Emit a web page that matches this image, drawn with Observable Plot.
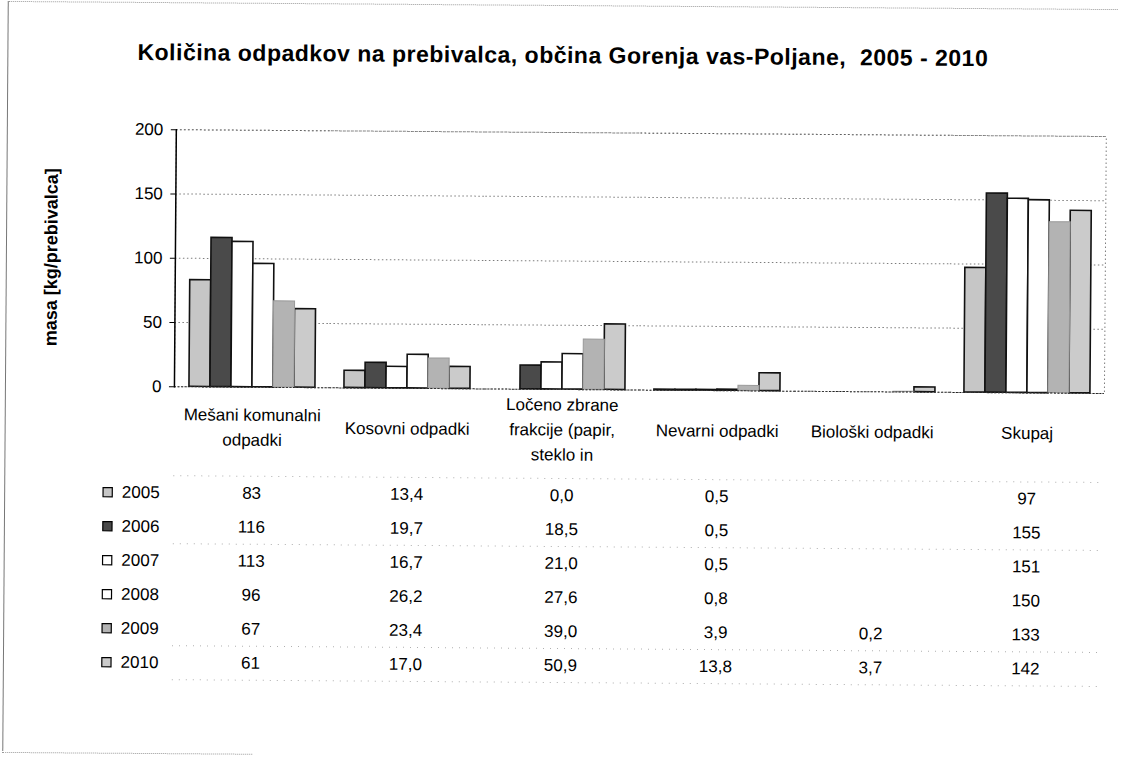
<!DOCTYPE html>
<html>
<head>
<meta charset="utf-8">
<script src="https://cdn.jsdelivr.net/npm/d3@7"></script>
<script src="https://cdn.jsdelivr.net/npm/@observablehq/plot@0.6"></script>
<style>
  body { margin: 0; background: #fff; }
  #page { position: relative; width: 1121px; height: 761px; overflow: hidden; background: #fff;
          font-family: "Liberation Sans", Arial, sans-serif; color: #000; }
  #inner { position: absolute; left: 0; top: 0; width: 1121px; height: 761px; transform: rotate(0.42deg); transform-origin: 560px 380px; }
  #title { position: absolute; left: 0; width: 1121px; top: 44px; text-align: center; font-weight: bold;
           font-size: 23px; letter-spacing: 0.5px; line-height: 23px; white-space: pre; }
  #chart { position: absolute; left: 0; top: 100px; }
  #table { position: absolute; left: 0; top: 390px; }
  .bl { position: absolute; left: 5px; top: 5px; width: 0; height: 750px; border-left: 1px solid #777; }
  .bt { position: absolute; left: 5px; top: 5px; width: 1110px; height: 0; border-top: 1px dotted #999; }
  .bb { position: absolute; left: 5px; top: 756px; width: 250px; height: 0; border-top: 1px dotted #999; }
</style>
</head>
<body>
<div id="page">
  <div id="inner">
    <div class="bl"></div><div class="bt"></div><div class="bb"></div>
    <div id="title">Količina odpadkov na prebivalca, občina Gorenja vas-Poljane,  2005 - 2010</div>
    <div id="chart"></div>
    <div id="table"></div>
  </div>
</div>
<script>
// ---- data ----
const categories = [
  "Mešani komunalni odpadki",
  "Kosovni odpadki",
  "Ločeno zbrane frakcije (papir, steklo in",
  "Nevarni odpadki",
  "Biološki odpadki",
  "Skupaj"
];
const categoryLabels = [
  "Mešani komunalni\nodpadki",
  "Kosovni odpadki",
  "Ločeno zbrane\nfrakcije (papir,\nsteklo in",
  "Nevarni odpadki",
  "Biološki odpadki",
  "Skupaj"
];
const years = ["2005", "2006", "2007", "2008", "2009", "2010"];
const v2005 = [83, 13.4, 0.0, 0.5, null, 97];
const v2006 = [116, 19.7, 18.5, 0.5, null, 155];
const v2007 = [113, 16.7, 21.0, 0.5, null, 151];
const v2008 = [96, 26.2, 27.6, 0.8, null, 150];
const v2009 = [67, 23.4, 39.0, 3.9, 0.2, 133];
const v2010 = [61, 17.0, 50.9, 13.8, 3.7, 142];
const decimals = [0, 1, 1, 1, 1, 0];
const yTicks = [0, 50, 100, 150, 200];
const yTitle = "masa [kg/prebivalca]";

// ---- styles ----
const fills = ["#c6c6c6", "#4a4a4a", "#ffffff", "#ffffff", "#b3b3b3", "#cbcbcb"];
const font = "Liberation Sans, Arial, sans-serif";

const series = [v2005, v2006, v2007, v2008, v2009, v2010];
const rows = [];
years.forEach((yr, j) => {
  categories.forEach((c, i) => {
    const v = series[j][i];
    if (v !== null) rows.push({year: yr, cat: c, value: v,
      label: v.toFixed(decimals[i]).replace(".", ",")});
  });
});

const chart = Plot.plot({
  width: 1121, height: 300,
  marginTop: 32, marginBottom: 11, marginLeft: 174, marginRight: 17,
  style: {fontFamily: font, fontSize: "17px", color: "#000", background: "transparent", overflow: "visible"},
  fx: {domain: categories, padding: 0, axis: null},
  x: {domain: years, paddingInner: 0, paddingOuter: 0.6, axis: null},
  y: {domain: [0, 200], label: null},
  color: {domain: years, range: fills},
  marks: [
    Plot.gridY(yTicks.slice(1), {stroke: "#444", strokeOpacity: 0.7, strokeDasharray: "1.5,2.5"}),
    Plot.barY(rows.filter(d => d.year !== "2009"), {fx: "cat", x: "year", y: "value", fill: "year", stroke: "#111", strokeWidth: 1.6}),
    Plot.barY(rows.filter(d => d.year === "2009"), {fx: "cat", x: "year", y: "value", fill: "year", stroke: "#999", strokeWidth: 1}),
    Plot.ruleY([0], {stroke: "#222", strokeDasharray: "2,1.5"}),
    Plot.frame({facet: "super", stroke: "#444", strokeOpacity: 0.7, strokeDasharray: "1.5,2.5"}),
    Plot.frame({facet: "super", anchor: "left", stroke: "#000", strokeWidth: 1.5}),
    Plot.axisY({ticks: yTicks, tickSize: 5, tickPadding: 8, label: null, fontSize: 17, tickFormat: d3.format("d")}),
    Plot.text([yTitle], {fx: () => categories[0], frameAnchor: "left", textAnchor: "middle", dx: -124, rotate: -90, text: d => d,
      fontWeight: "bold", fontSize: 18})
  ]
});
document.getElementById("chart").appendChild(chart);

const table = Plot.plot({
  width: 1121, height: 300,
  marginTop: 0, marginBottom: 0, marginLeft: 174, marginRight: 17,
  style: {fontFamily: font, fontSize: "17px", color: "#000", background: "transparent", overflow: "visible"},
  x: {type: "point", domain: categories, padding: 0.5, axis: null},
  y: {type: "point", domain: ["H", "_", ...years], range: [36, 275], padding: 0, axis: null},
  color: {domain: years, range: fills},
  marks: [
    Plot.ruleY(["_", "2006", "2009", "2010"], {y: d => d, dy: 17, stroke: "#999", strokeDasharray: "1,6", strokeOpacity: 0.8}),
    Plot.ruleX(categories, {x: d => d, dx: -77.5, y1: "H", y2: "2010", insetTop: -30, insetBottom: -18, stroke: "#999", strokeDasharray: "1,7", strokeOpacity: 0.8}),
    Plot.text(categories, {x: d => d, y: () => "H", text: (d, i) => categoryLabels[i], lineHeight: 1.47, fontSize: 17}),
    Plot.text(rows, {x: "cat", y: "year", text: "label", fontSize: 17}),
    Plot.text(years, {y: d => d, text: d => d, frameAnchor: "left", dx: -14, textAnchor: "end", fontSize: 17}),
    Plot.dot(years, {y: d => d, frameAnchor: "left", dx: -66, symbol: "square", r: 5.2, fill: d => d, stroke: "#000", strokeWidth: 1.2})
  ]
});
document.getElementById("table").appendChild(table);
</script>
</body>
</html>
